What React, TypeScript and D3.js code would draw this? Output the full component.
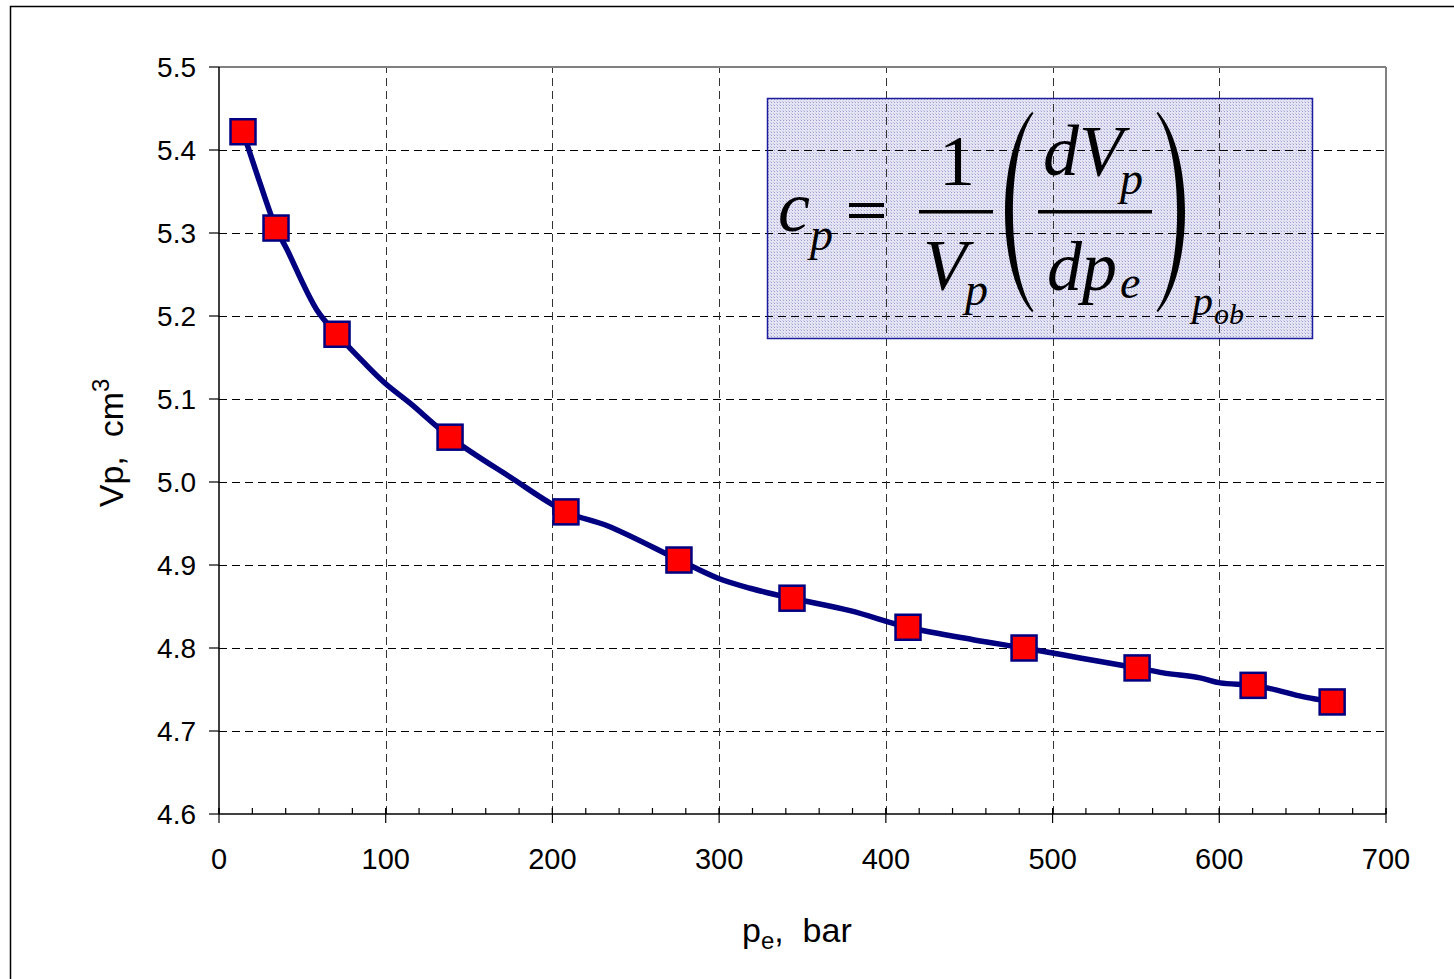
import React from "react";
import * as d3 from "d3";

// Measured points (pressure, bar) and pore volume (cm3)
const pressure = [14.4, 34.2, 70.8, 138.6, 208.1, 275.9, 343.7, 413.3, 482.9, 550.7, 620.3, 667.7];
const volume = [5.422, 5.306, 5.178, 5.054, 4.964, 4.906, 4.86, 4.825, 4.8, 4.776, 4.755, 4.735];

// Fitted curve drawn through the points
const curveP = [14.4, 24.6, 34.2, 40.8, 58.8, 70.8, 86.4, 99.6, 114.6, 138.6, 174.6, 208.1, 233.3, 275.9, 299.3, 318.5, 343.7, 378.5, 413.3, 452.3, 482.9, 516.5, 550.7, 566.3, 588.5, 600.5, 620.3, 635.1, 646.5, 667.7];
const curveV = [5.422, 5.36, 5.306, 5.28, 5.207, 5.178, 5.145, 5.119, 5.095, 5.054, 5.006, 4.964, 4.947, 4.906, 4.884, 4.872, 4.86, 4.845, 4.825, 4.81, 4.8, 4.788, 4.776, 4.77, 4.764, 4.758, 4.755, 4.749, 4.743, 4.735];

const xTicks = [0, 100, 200, 300, 400, 500, 600, 700];
const xMinorTicks = d3.range(0, 701, 20);
const yTicks = [4.6, 4.7, 4.8, 4.9, 5.0, 5.1, 5.2, 5.3, 5.4, 5.5];

const W = 1454;
const H = 979;
const SANS = "'Liberation Sans', Arial, sans-serif";
const SERIF = "'Liberation Serif', 'Times New Roman', serif";

export default function App() {
  const x = d3.scaleLinear().domain([0, 700]).range([219, 1386]);
  const y = d3.scaleLinear().domain([4.6, 5.5]).range([814, 67]);
  const [x0, x1] = x.range();
  const [y0, y1] = y.range();

  const line = d3
    .line<number>()
    .x((_, i) => x(curveP[i]))
    .y((v) => y(v))
    .curve(d3.curveCatmullRom.alpha(0.5));

  const ms = 25;

  // tall parenthesis: tip x, top, bottom, direction (1 = "(", -1 = ")")
  const paren = (tip: number, top: number, bot: number, dir: number) => {
    const h = bot - top;
    const outer = tip - dir * 36;
    const inner = tip - dir * 26;
    return `M ${tip} ${top} C ${outer} ${top + h * 0.2}, ${outer} ${bot - h * 0.2}, ${tip} ${bot} L ${tip + dir * 1.5} ${bot - 1} C ${inner} ${bot - h * 0.2}, ${inner} ${top + h * 0.2}, ${tip + dir * 1.5} ${top + 1} Z`;
  };

  return (
    <div style={{ position: "fixed", left: 0, top: 0 }}>
      <svg width={W} height={H} style={{ display: "block", background: "#fff" }}>
        <defs>
          <pattern id="dots" width="3" height="3" patternUnits="userSpaceOnUse">
            <rect width="3" height="3" fill="#e4e4f3" />
            <rect width="1" height="1" fill="#9e9ed4" />
            <rect x="2" y="2" width="1" height="1" fill="#c4c4e4" />
          </pattern>
        </defs>
        {/* outer frame */}
        <rect x={10.5} y={6.5} width={W + 20} height={H + 20} fill="none" stroke="#000" strokeWidth={1.5} />

        {/* formula box background */}
        <rect x={767} y={98} width={545} height={240} fill="url(#dots)" />

        {/* grid */}
        {yTicks.slice(1, -1).map((t) => (
          <line key={"gy" + t} x1={x0} x2={x1} y1={Math.round(y(t)) + 0.5} y2={Math.round(y(t)) + 0.5} stroke="#000" strokeWidth={1} strokeDasharray="8,5" />
        ))}
        {xTicks.slice(1, -1).map((t) => (
          <line key={"gx" + t} x1={Math.round(x(t)) + 0.5} x2={Math.round(x(t)) + 0.5} y1={y0} y2={y1} stroke="#333" strokeWidth={1} strokeDasharray="8,5" />
        ))}

        {/* formula box border */}
        <rect x={767.5} y={98.5} width={545} height={240} fill="none" stroke="#1c1c9c" strokeWidth={1.5} />

        {/* plot border top/right */}
        <line x1={x0} x2={x1} y1={y1} y2={y1} stroke="#808080" strokeWidth={2} />
        <line x1={x1} x2={x1} y1={y1} y2={y0} stroke="#808080" strokeWidth={2} />

        {/* axes */}
        <line x1={x0} x2={x0} y1={y1} y2={y0} stroke="#000" strokeWidth={1.5} />
        <line x1={x0} x2={x1} y1={y0} y2={y0} stroke="#000" strokeWidth={1.5} />
        {xMinorTicks.map((t) => (
          <line key={"mx" + t} x1={x(t)} x2={x(t)} y1={y0} y2={y0 - 6} stroke="#000" strokeWidth={1.2} />
        ))}
        {xTicks.map((t) => (
          <g key={"tx" + t}>
            <line x1={x(t)} x2={x(t)} y1={y0 - 6} y2={y0 + 9} stroke="#000" strokeWidth={1.2} />
            <text x={x(t)} y={869} textAnchor="middle" fontFamily={SANS} fontSize={29} fill="#000">
              {t}
            </text>
          </g>
        ))}
        {yTicks.map((t) => (
          <g key={"ty" + t}>
            <line x1={x0 - 10} x2={x0} y1={y(t)} y2={y(t)} stroke="#000" strokeWidth={1.2} />
            <text x={196} y={y(t) + 10} textAnchor="end" fontFamily={SANS} fontSize={28} fill="#000">
              {t.toFixed(1)}
            </text>
          </g>
        ))}

        {/* axis titles */}
        <text x={742} y={942} fontFamily={SANS} fontSize={34} fill="#000" xmlSpace="preserve">
          p<tspan fontSize={24} dy={7}>e</tspan>
          <tspan dy={-7}>,  bar</tspan>
        </text>
        <text transform={`translate(123, 443) rotate(-90)`} textAnchor="middle" fontFamily={SANS} fontSize={34} fill="#000" xmlSpace="preserve">
          Vp,  cm<tspan fontSize={24} dy={-14}>3</tspan>
        </text>

        {/* formula */}
        <g fontFamily={SERIF} fill="#000" fontStyle="italic">
          <text x={778} y={231} fontSize={72}>
            c<tspan x={810} y={250} fontSize={46}>p</tspan>
          </text>
          <text x={957} y={185} fontSize={72} fontStyle="normal" textAnchor="middle">1</text>
          <text x={923} y={289} fontSize={72}>
            V<tspan dx={-2} dy={16} fontSize={46}>p</tspan>
          </text>
          <text x={1043} y={175} fontSize={72}>
            dV<tspan x={1120} y={194} fontSize={46}>p</tspan>
          </text>
          <text x={1047} y={290} fontSize={70}>
            dp<tspan dx={3} dy={8} fontSize={46}>e</tspan>
          </text>
          <text x={1192} y={315} fontSize={42}>
            p<tspan x={1214} y={324} fontSize={30}>ob</tspan>
          </text>
        </g>
        <rect x={849} y={203} width={35} height={4} fill="#000" />
        <rect x={849} y={214} width={35} height={4} fill="#000" />
        <rect x={919} y={210} width={74} height={3.5} fill="#000" />
        <rect x={1038} y={210} width={114} height={3.5} fill="#000" />
        <path d={paren(1032, 112, 312, 1)} fill="#000" />
        <path d={paren(1158, 112, 312, -1)} fill="#000" />

        {/* fitted line */}
        <path d={line(curveV) || ""} fill="none" stroke="#000080" strokeWidth={5.5} strokeLinejoin="round" />

        {/* markers */}
        {pressure.map((p, i) => (
          <rect key={"m" + i} x={x(p) - ms / 2} y={y(volume[i]) - ms / 2} width={ms} height={ms} fill="#ff0000" stroke="#000080" strokeWidth={2.5} />
        ))}
      </svg>
    </div>
  );
}
